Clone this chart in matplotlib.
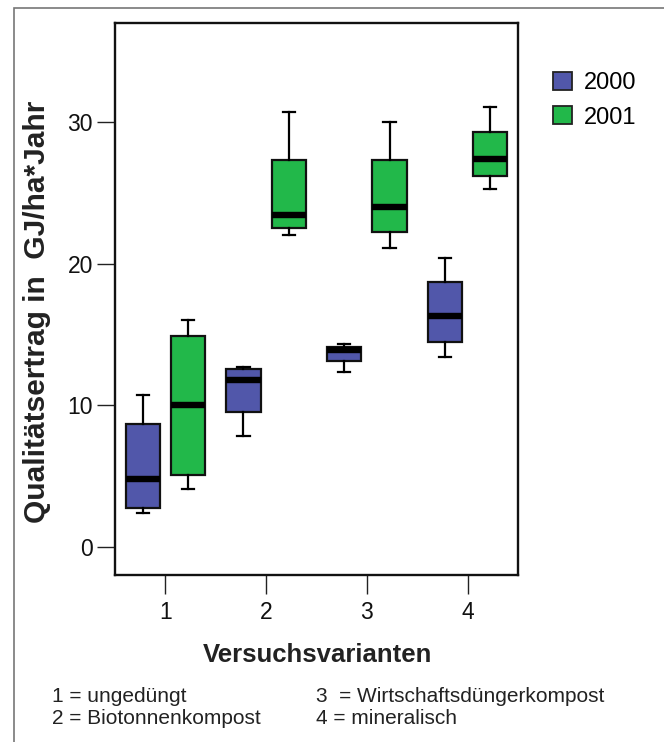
import matplotlib
matplotlib.use("Agg")
import matplotlib.pyplot as plt
from matplotlib.patches import Rectangle, Patch

plt.rcParams['font.family'] = ['Liberation Sans', 'DejaVu Sans']

categories = [1, 2, 3, 4]
tick_labels = ['1', '2', '3', '4']
series_names = ['2000', '2001']

# five-number summaries
lo_2000 = [2.4, 7.8, 12.35, 13.4]
q1_2000 = [2.75, 9.5, 13.1, 14.45]
med_2000 = [4.8, 11.8, 13.9, 16.3]
q3_2000 = [8.65, 12.55, 14.1, 18.7]
hi_2000 = [10.7, 12.7, 14.3, 20.4]

lo_2001 = [4.05, 22.0, 21.1, 25.3]
q1_2001 = [5.1, 22.5, 22.2, 26.2]
med_2001 = [10.0, 23.45, 24.0, 27.4]
q3_2001 = [14.9, 27.3, 27.3, 29.3]
hi_2001 = [16.0, 30.7, 30.0, 31.1]

notes = ['1 = ungedüngt', '2 = Biotonnenkompost',
         '3  = Wirtschaftsdüngerkompost', '4 = mineralisch']

colors = ['#5157AA', '#22B84A']

fig = plt.figure(figsize=(6.64, 7.42), dpi=100)
W, H = 664, 742
ax = fig.add_axes([115 / W, 1 - 575 / H, (518 - 115) / W, (575 - 23) / H])


def stats(lo, q1, med, q3, hi):
    return [dict(whislo=a, q1=b, med=c, q3=d, whishi=e, fliers=[])
            for a, b, c, d, e in zip(lo, q1, med, q3, hi)]


series = [stats(lo_2000, q1_2000, med_2000, q3_2000, hi_2000),
          stats(lo_2001, q1_2001, med_2001, q3_2001, hi_2001)]
offsets = [-0.225, 0.225]
for st, off, col in zip(series, offsets, colors):
    ax.bxp(st, positions=[c + off for c in categories], widths=0.34,
           patch_artist=True, showfliers=False, capwidths=0.12,
           boxprops=dict(facecolor=col, edgecolor='#111111', linewidth=1.6),
           medianprops=dict(color='black', linewidth=4.6, solid_capstyle='butt'),
           whiskerprops=dict(color='black', linewidth=1.6),
           capprops=dict(color='black', linewidth=1.6),
           manage_ticks=False)

ax.set_xlim(0.5, 4.5)
ax.set_ylim(-2, 37)
ax.set_xticks(categories)
ax.set_xticklabels(tick_labels)
ax.set_yticks([0, 10, 20, 30])
for s in ax.spines.values():
    s.set_linewidth(1.7)
    s.set_color('#111111')
ax.tick_params(axis='y', direction='out', length=13, width=1.0, pad=3,
               labelsize=16.5, color='#222222', labelcolor='#111111')
ax.tick_params(axis='x', direction='out', length=14, width=1.0, pad=5,
               labelsize=16.5, color='#222222', labelcolor='#111111')

fig.text(37 / W, 1 - 312 / H, 'Qualitätsertrag in  GJ/ha*Jahr',
         rotation=90, ha='center', va='center', fontsize=21.5,
         fontweight='bold', color='#222222')
fig.text(318 / W, 1 - 655 / H, 'Versuchsvarianten', ha='center',
         va='center', fontsize=18.5, fontweight='bold', color='#222222')

positions_notes = [(52, 696), (52, 719), (316, 696), (316, 719)]
for txt, (x, y) in zip(notes, positions_notes):
    fig.text(x / W, 1 - y / H, txt, ha='left', va='center',
             fontsize=15, color='#222222')

handles = [Patch(facecolor=c, edgecolor='#222222', linewidth=1.3) for c in colors]
leg = fig.legend(handles, series_names, loc='upper left',
                 bbox_to_anchor=(532 / W, 1 - 51 / H), frameon=False,
                 fontsize=17, handlelength=0.8, handleheight=0.8,
                 handletextpad=0.5, labelspacing=0.5, borderpad=0.4)

# outer gray frame
fig.patches.append(Rectangle((14 / W, -0.1), 1.2, 1 - 7.5 / H + 0.1,
                             transform=fig.transFigure, fill=False,
                             edgecolor='#777777', linewidth=1.2))

fig.savefig('out.png', dpi=100)
